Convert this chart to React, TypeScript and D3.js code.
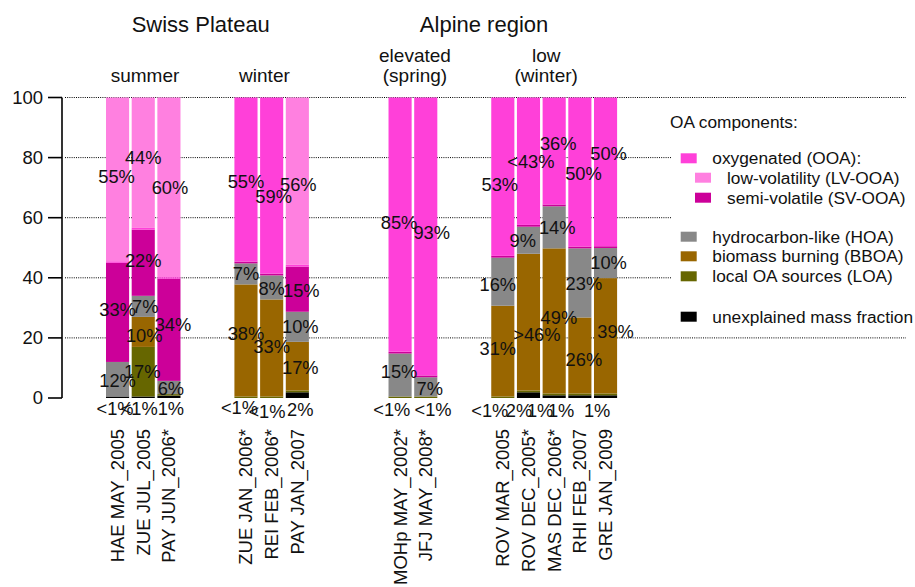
import React from "react";
import * as d3 from "d3";

// ---------- data ----------
const SITES = [
  "HAE MAY_2005", "ZUE JUL_2005", "PAY JUN_2006*",
  "ZUE JAN_2006*", "REI FEB_2006*", "PAY JAN_2007",
  "MOHp MAY_2002*", "JFJ MAY_2008*",
  "ROV MAR_2005", "ROV DEC_2005*", "MAS DEC_2006*", "RHI FEB_2007", "GRE JAN_2009",
];
// slot index of each bar along the x axis (empty slots separate the groups)
const SLOTS = [0, 1, 2, 5, 6, 7, 11, 12, 15, 16, 17, 18, 19];
const N_SLOTS = 20;

// component fractions (%), stacked bottom -> top
const UNEXPLAINED = [0.5, 0.5, 0.8, 0, 0, 1.9, 0, 0, 0, 1.9, 0.9, 0.9, 0.9];
const LOA = [0, 16.5, 0.5, 0.5, 0.5, 0.6, 0.5, 0.5, 0.5, 0.6, 0.6, 0.6, 0.6];
const BBOA = [0, 10, 0, 37.3, 32.3, 16.2, 0, 0, 30.2, 45.5, 48.3, 25.3, 38.4];
const HOA = [11.5, 7, 4.4, 7, 8, 10, 14.3, 6.4, 16, 9, 14, 23, 10];
const SV_OOA = [33, 22, 34, 0.6, 0.6, 15, 0.6, 0.6, 0.6, 0.6, 0.6, 0.6, 0.6];
const OOA = [0.5, 0.6, 0.5, 54.6, 58.6, 0.6, 84.6, 92.5, 52.7, 42.4, 35.6, 49.6, 49.5];
const LV_OOA = [54.5, 43.4, 59.8, 0, 0, 55.7, 0, 0, 0, 0, 0, 0, 0];

const Y_TICKS = [0, 20, 40, 60, 80, 100];
const GRID_VALUES = [20, 40, 60, 80, 100];

// segment labels: [site index, text, y (in %), x nudge]
const LABELS: [number, string, number, number][] = [
  [0, "55%", 73.6, -1], [0, "33%", 29.3, 0], [0, "12%", 5.7, 0], [0, "<1%", -3.5, -2.5],
  [1, "44%", 80.1, 0], [1, "22%", 45.6, 0], [1, "7%", 30.4, 2], [1, "10%", 20.7, 1], [1, "17%", 8.75, -1], [1, "<1%", -3.5, -4],
  [2, "60%", 69.9, 1], [2, "34%", 24.3, 4], [2, "6%", 3.2, 2], [2, "1%", -3.5, 2],
  [3, "55%", 72, 0], [3, "7%", 41.5, 0], [3, "38%", 21.5, 0], [3, "<1%", -3.3, -6.5],
  [4, "59%", 67, 2], [4, "8%", 36.5, 0], [4, "33%", 17.1, 0], [4, "<1%", -4.5, -4.7],
  [5, "56%", 70.9, 1], [5, "15%", 35.6, 4], [5, "10%", 23.7, 3], [5, "17%", 10.2, 3], [5, "2%", -4, 3],
  [6, "85%", 58.3, -1], [6, "15%", 8.75, -1], [6, "<1%", -4, -8.3],
  [7, "93%", 55, 6], [7, "7%", 3.2, 4], [7, "<1%", -4, 7.3],
  [8, "53%", 70.9, -3], [8, "16%", 37.6, -5], [8, "31%", 16.5, -5], [8, "<1%", -4.3, -13],
  [9, "<43%", 78.6, 2.4], [9, "9%", 52.3, -5.7], [9, ">46%", 21, 8.4], [9, "2%", -4.3, -9.4],
  [10, "36%", 84.8, 4], [10, "14%", 56.8, 3], [10, "49%", 26.8, 4.7], [10, "1%", -4.3, -14],
  [11, "50%", 74.8, 3.6], [11, "23%", 38.2, 4], [11, "26%", 12.9, 4], [11, "1%", -4.3, -18.7],
  [12, "50%", 81.4, 3], [12, "10%", 45, 3], [12, "39%", 22.1, 10], [12, "1%", -4.3, -8.4],
];

// group headers: [text, slot position]
const REGION_TITLES: [string, number][] = [["Swiss Plateau", 3.24], ["Alpine region", 14.27]];
const GROUP_TITLES: [string[], number][] = [
  [["summer"], 1.07],
  [["winter"], 5.72],
  [["elevated", "(spring)"], 11.58],
  [["low", "(winter)"], 16.69],
];

const COMPONENTS = [
  { key: "unexplained", values: UNEXPLAINED, color: "#000000" },
  { key: "LOA", values: LOA, color: "#666600" },
  { key: "BBOA", values: BBOA, color: "#996600" },
  { key: "HOA", values: HOA, color: "#888888" },
  { key: "SV-OOA", values: SV_OOA, color: "#CC0099" },
  { key: "OOA", values: OOA, color: "#FF40D9" },
  { key: "LV-OOA", values: LV_OOA, color: "#FF80E0" },
];

const LEGEND_ITEMS: { text: string; color: string; indent: boolean; y: number }[] = [
  { text: "oxygenated (OOA):", color: "#FF40D9", indent: false, y: 158.3 },
  { text: "low-volatility (LV-OOA)", color: "#FF80E0", indent: true, y: 177.7 },
  { text: "semi-volatile (SV-OOA)", color: "#CC0099", indent: true, y: 197.7 },
  { text: "hydrocarbon-like (HOA)", color: "#888888", indent: false, y: 236.7 },
  { text: "biomass burning (BBOA)", color: "#996600", indent: false, y: 256.3 },
  { text: "local OA sources (LOA)", color: "#666600", indent: false, y: 276.3 },
  { text: "unexplained mass fraction", color: "#000000", indent: false, y: 316.7 },
];

// ---------- layout ----------
const W = 915;
const H = 587;
const FONT = "'Liberation Sans', Arial, Helvetica, sans-serif";
const TEXT = "#111";

export default function App() {
  const x = d3
    .scaleBand<number>()
    .domain(d3.range(N_SLOTS))
    .range([106, 617.1])
    .paddingInner(0.1)
    .paddingOuter(0);
  const bw = x.bandwidth();
  const step = x.step();
  const slotCenter = (s: number) => (x(0) as number) + bw / 2 + s * step;

  const y = d3.scaleLinear().domain([0, 100]).range([398, 97.5]);
  const axisX = 62;

  // stacked data
  const rows = SITES.map((_, i) => {
    const r: any = { i };
    COMPONENTS.forEach((c) => (r[c.key] = c.values[i]));
    return r;
  });
  const stack = d3.stack<any>().keys(COMPONENTS.map((c) => c.key));
  const series = stack(rows);

  return (
    <svg
      width={W}
      height={H}
      style={{ position: "absolute", left: 0, top: 0, background: "#fff" }}
      fontFamily={FONT}
    >
      <rect x={0} y={0} width={W} height={H} fill="#fff" />
      {/* gridlines */}
      {GRID_VALUES.map((v) => (
        <line
          key={v}
          x1={axisX + 3}
          x2={906}
          y1={y(v)}
          y2={y(v)}
          stroke="#000"
          strokeWidth={1}
          strokeDasharray="1 1.2"
        />
      ))}
      {/* bars */}
      {series.map((s, si) => (
        <g key={s.key} fill={COMPONENTS[si].color}>
          {s.map((d, i) =>
            d[1] - d[0] > 0 ? (
              <rect
                key={i}
                x={x(SLOTS[i]) as number}
                width={bw}
                y={y(d[1])}
                height={y(d[0]) - y(d[1])}
              />
            ) : null
          )}
        </g>
      ))}
      {/* y axis */}
      <line x1={axisX} x2={axisX} y1={y(0)} y2={y(100)} stroke="#000" strokeWidth={1.6} />
      {Y_TICKS.map((t) => (
        <g key={t}>
          <line x1={48} x2={axisX} y1={y(t)} y2={y(t)} stroke="#000" strokeWidth={1.6} />
          <text
            x={43}
            y={y(t)}
            dy="0.35em"
            textAnchor="end"
            fontSize={18.5}
            fill={TEXT}
          >
            {t}
          </text>
        </g>
      ))}
      {/* segment labels */}
      {LABELS.map(([si, txt, v, dx], k) => (
        <text
          key={k}
          x={(x(SLOTS[si]) as number) + bw / 2 + dx}
          y={y(v)}
          dy="0.35em"
          textAnchor="middle"
          fontSize={18.3}
          fill={TEXT}
        >
          {txt}
        </text>
      ))}
      {/* x labels */}
      {SITES.map((s, i) => {
        const cx = (x(SLOTS[i]) as number) + bw / 2;
        return (
          <text
            key={s}
            transform={`translate(${cx},429) rotate(-90)`}
            dy="0.35em"
            textAnchor="end"
            fontSize={18.5}
            fill={TEXT}
          >
            {s}
          </text>
        );
      })}
      {/* region titles */}
      {REGION_TITLES.map(([t, s]) => (
        <text key={t} x={slotCenter(s)} y={32} textAnchor="middle" fontSize={22} fill={TEXT}>
          {t}
        </text>
      ))}
      {GROUP_TITLES.map(([lines, s]) =>
        lines.map((ln, j) => (
          <text
            key={ln}
            x={slotCenter(s)}
            y={82 - (lines.length - 1 - j) * 20}
            textAnchor="middle"
            fontSize={19}
            fill={TEXT}
          >
            {ln}
          </text>
        ))
      )}
      {/* legend */}
      <rect x={672} y={103} width={240} height={230} fill="#fff" />
      <text x={670} y={121.7} dy="0.35em" fontSize={17.3} fill={TEXT}>
        OA components:
      </text>
      {LEGEND_ITEMS.map((it) => (
        <g key={it.text}>
          <rect
            x={it.indent ? 695 : 680.7}
            y={it.y - 5}
            width={16}
            height={10}
            fill={it.color}
          />
          <text
            x={it.indent ? 727 : 712.3}
            y={it.y}
            dy="0.35em"
            fontSize={17.3}
            fill={TEXT}
          >
            {it.text}
          </text>
        </g>
      ))}
    </svg>
  );
}
